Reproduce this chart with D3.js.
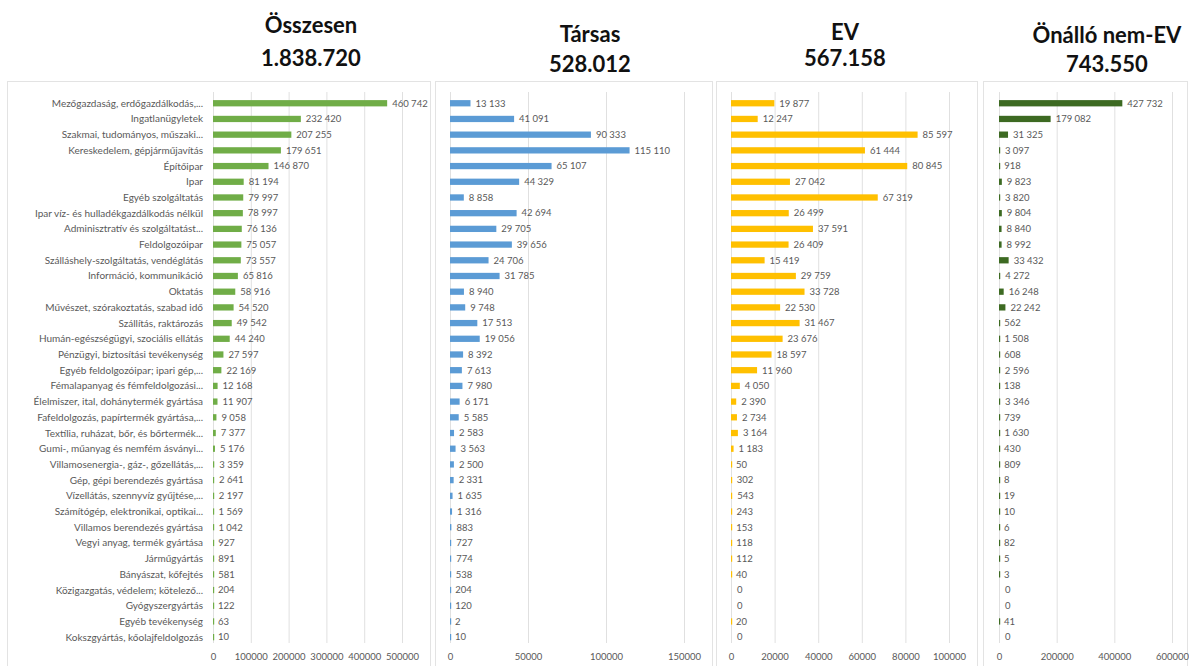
<!DOCTYPE html>
<html>
<head>
<meta charset="utf-8">
<script src="https://cdn.jsdelivr.net/npm/d3@7"></script>
<style>
  body { margin: 0; background: #fff; }
  svg { display: block; font-family: Lato, "Open Sans", sans-serif; }
</style>
</head>
<body>
<svg id="chart" width="1189" height="666"></svg>
<script>
// categories, top to bottom
var categories = [
  "Mezőgazdaság, erdőgazdálkodás,...", "Ingatlanügyletek", "Szakmai, tudományos, műszaki...",
  "Kereskedelem, gépjárműjavítás", "Építőipar", "Ipar", "Egyéb szolgáltatás",
  "Ipar víz- és hulladékgazdálkodás nélkül", "Adminisztratív és szolgáltatást...", "Feldolgozóipar",
  "Szálláshely-szolgáltatás, vendéglátás", "Információ, kommunikáció", "Oktatás",
  "Művészet, szórakoztatás, szabad idő", "Szállítás, raktározás", "Humán-egészségügyi, szociális ellátás",
  "Pénzügyi, biztosítási tevékenység", "Egyéb feldolgozóipar; ipari gép,...", "Fémalapanyag és fémfeldolgozási...",
  "Élelmiszer, ital, dohánytermék gyártása", "Fafeldolgozás, papírtermék gyártása,...", "Textília, ruházat, bőr, és bőrtermék...",
  "Gumi-, műanyag és nemfém ásványi...", "Villamosenergia-, gáz-, gőzellátás,...", "Gép, gépi berendezés gyártása",
  "Vízellátás, szennyvíz gyűjtése,...", "Számítógép, elektronikai, optikai...", "Villamos berendezés gyártása",
  "Vegyi anyag, termék gyártása", "Járműgyártás", "Bányászat, kőfejtés", "Közigazgatás, védelem; kötelező...",
  "Gyógyszergyártás", "Egyéb tevékenység", "Kokszgyártás, kőolajfeldolgozás"
];

var osszesen = [460742, 232420, 207255, 179651, 146870, 81194, 79997, 78997, 76136, 75057, 73557, 65816,
  58916, 54520, 49542, 44240, 27597, 22169, 12168, 11907, 9058, 7377, 5176, 3359, 2641, 2197, 1569, 1042,
  927, 891, 581, 204, 122, 63, 10];
var tarsas = [13133, 41091, 90333, 115110, 65107, 44329, 8858, 42694, 29705, 39656, 24706, 31785,
  8940, 9748, 17513, 19056, 8392, 7613, 7980, 6171, 5585, 2583, 3563, 2500, 2331, 1635, 1316, 883,
  727, 774, 538, 204, 120, 2, 10];
var ev = [19877, 12247, 85597, 61444, 80845, 27042, 67319, 26499, 37591, 26409, 15419, 29759,
  33728, 22530, 31467, 23676, 18597, 11960, 4050, 2390, 2734, 3164, 1183, 50, 302, 543, 243, 153,
  118, 112, 40, 0, 0, 20, 0];
var nemEv = [427732, 179082, 31325, 3097, 918, 9823, 3820, 9804, 8840, 8992, 33432, 4272,
  16248, 22242, 562, 1508, 608, 2596, 138, 3346, 739, 1630, 430, 809, 8, 19, 10, 6,
  82, 5, 3, 0, 0, 41, 0];

var titles = ["Összesen", "Társas", "EV", "Önálló nem-EV"];
var totals = ["1.838.720", "528.012", "567.158", "743.550"];
var ticks1 = [0, 100000, 200000, 300000, 400000, 500000];
var ticks2 = [0, 50000, 100000, 150000];
var ticks3 = [0, 20000, 40000, 60000, 80000, 100000];
var ticks4 = [0, 200000, 400000, 600000];

var svg = d3.select('#chart');
var grey = '#595959';
var fmt = d3.formatLocale({decimal: ",", thousands: " ", grouping: [3], currency: ["", ""]}).format(",d");

var y = d3.scaleBand()
  .domain(categories)
  .range([95.4, 645])
  .paddingInner(0.6)
  .paddingOuter(0.3);

var panels = [
  {values: osszesen, ticks: ticks1, color: '#70ad47', box: [7, 430], range: [213, 402], title: [311, 33, 66], labels: true},
  {values: tarsas, ticks: ticks2, color: '#5b9bd5', box: [435, 712], range: [450, 684], title: [590, 42, 72]},
  {values: ev, ticks: ticks3, color: '#ffc000', box: [716, 977], range: [731, 949], title: [845, 40, 66]},
  {values: nemEv, ticks: ticks4, color: '#3d6a22', box: [983, 1187], range: [999, 1172], title: [1107, 43, 72]}
];

panels.forEach(function(p, i) {
  var g = svg.append('g');

  // frame
  g.append('rect')
    .attr('x', p.box[0] + 0.5).attr('y', 81.5)
    .attr('width', p.box[1] - p.box[0]).attr('height', 600)
    .attr('fill', 'none').attr('stroke', '#e3e3e3');

  // titles
  g.append('text').text(titles[i])
    .attr('x', p.title[0]).attr('y', p.title[1])
    .attr('text-anchor', 'middle').attr('font-size', '22px').attr('font-weight', 'bold').attr('fill', '#111');
  g.append('text').text(totals[i])
    .attr('x', p.title[0]).attr('y', p.title[2])
    .attr('text-anchor', 'middle').attr('font-size', '22px').attr('font-weight', 'bold').attr('fill', '#111');

  var x = d3.scaleLinear().domain([0, p.ticks[p.ticks.length - 1]]).range(p.range);

  // gridlines
  g.append('g').selectAll('line')
    .data(p.ticks)
    .enter().append('line')
    .attr('x1', function(d) { return x(d) + 0.5; })
    .attr('x2', function(d) { return x(d) + 0.5; })
    .attr('y1', 92).attr('y2', 643)
    .attr('stroke', '#e0e0e0');

  // axis labels
  var axis = g.append('g')
    .attr('transform', 'translate(0,643)')
    .call(d3.axisBottom(x).tickValues(p.ticks).tickFormat(d3.format('d')).tickSize(0).tickPadding(10));
  axis.select('.domain').remove();
  axis.selectAll('text').attr('fill', grey).attr('font-size', '9.5px').attr('font-family', 'Lato, sans-serif');

  // bars
  g.append('g').selectAll('rect')
    .data(p.values)
    .enter().append('rect')
    .attr('x', x(0))
    .attr('y', function(d, j) { return y(categories[j]); })
    .attr('height', y.bandwidth())
    .attr('width', function(d) { return d > 0 ? Math.max(x(d) - x(0), 1.2) : 0; })
    .attr('fill', p.color);

  // value labels
  g.append('g').selectAll('text')
    .data(p.values)
    .enter().append('text')
    .text(function(d) { return fmt(d); })
    .attr('x', function(d) { return x(d) + (d > 0 ? 5 : 6); })
    .attr('y', function(d, j) { return y(categories[j]) + y.bandwidth() / 2; })
    .attr('dy', '0.35em')
    .attr('font-size', '9.5px')
    .attr('fill', grey);

  if (p.labels) {
    g.append('g').selectAll('text')
      .data(categories)
      .enter().append('text')
      .text(function(d) { return d; })
      .attr('x', 203)
      .attr('y', function(d) { return y(d) + y.bandwidth() / 2; })
      .attr('dy', '0.35em')
      .attr('text-anchor', 'end')
      .attr('font-size', '10px')
      .attr('fill', grey);
  }
});
</script>
</body>
</html>
